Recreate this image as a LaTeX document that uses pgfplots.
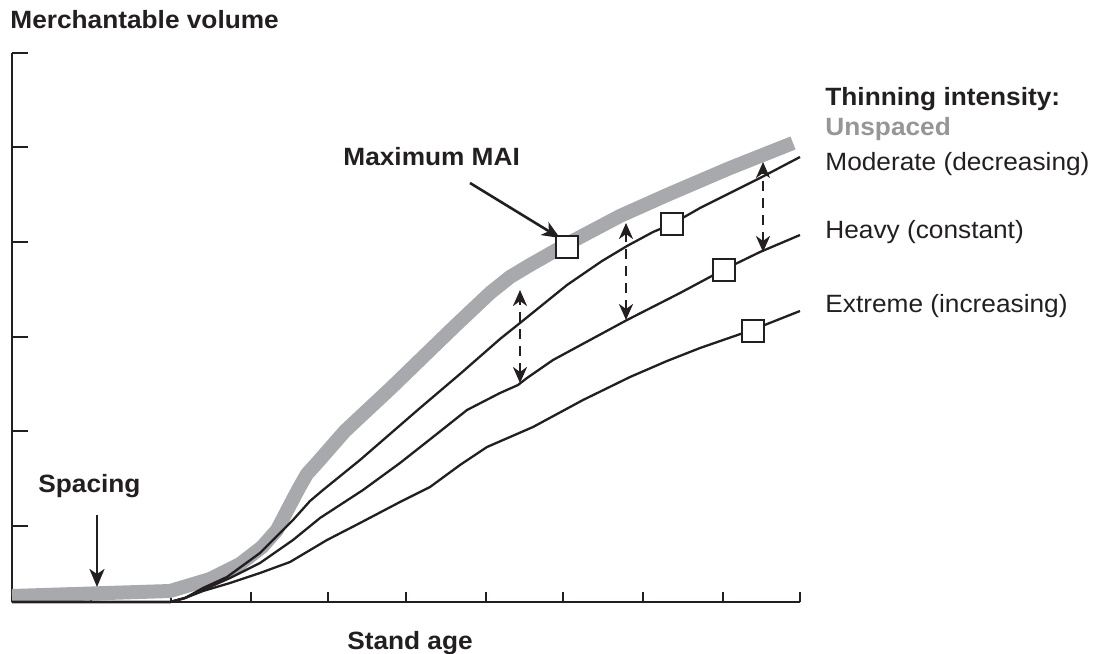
\documentclass[border=0pt]{standalone}
\usepackage{fontspec}
\setmainfont{Liberation Sans}[FakeStretch=1.05]
\usepackage{pgfplots}
\pgfplotsset{compat=1.18}
\usetikzlibrary{arrows.meta}
\definecolor{band}{RGB}{167,169,172}
\definecolor{ink}{RGB}{35,31,32}
\definecolor{graytext}{RGB}{150,150,152}
\newcommand\lab{\fontsize{12.5pt}{15pt}\selectfont}
\begin{document}
\begin{tikzpicture}
\path[use as bounding box] (0,0) rectangle (548.5pt,-326.5pt);
\begin{axis}[at={(6pt,-301pt)}, anchor=south west, scale only axis,
  width=394pt, height=274.5pt,
  xmin=0, xmax=788, ymin=0, ymax=549,
  axis lines=left, axis line style={-, line width=1.4pt, ink},
  clip=false,
  xtick={79,159,239,316,394,474,551,631,711,788}, xticklabels={},
  ytick=\empty, extra y ticks={76,171,265,360,455,549}, extra y tick labels={},
  tick align=inside, major tick length=5pt,
  extra tick style={major tick length=8pt},
  tick style={line width=1pt, ink},
]
% Unspaced
\addplot[band, line width=7pt, line join=round] coordinates {
(0,6)(158,11)(198,23)(228,38)(250,55)(265,72)(278,97)(287,114)(295,128)(305,139)(333,171)(379,214)(443,276)(478,309)(498,325)(518,337)(555,358)(608,386)(655,407)(718,434)(781,459)};
% Moderate
\addplot[ink, line width=1.15pt, line join=round] coordinates {
(0,0)(158,0)(173,4)(191,14)(215,25)(248,49)(281,82)(298,101)(311,112)(348,142)(408,194)(448,228)(488,263)(508,279)(555,317)(590,341)(615,356)(641,370)(660,378)(688,394)(748,424)(788,445)};
% Heavy
\addplot[ink, line width=1.15pt, line join=round] coordinates {
(0,0)(158,0)(173,4)(191,12)(218,24)(248,39)(281,62)(308,84)(351,112)(388,139)(421,165)(455,192)(488,209)(506,217)(515,224)(541,242)(578,262)(615,282)(668,309)(711,332)(748,350)(788,367)};
% Extreme
\addplot[ink, line width=1.15pt, line join=round] coordinates {
(0,0)(158,0)(173,4)(191,11)(218,19)(248,29)(278,40)(315,62)(348,79)(388,100)(418,115)(448,137)(475,155)(521,175)(571,202)(618,225)(655,241)(688,254)(740,272)(788,291)};
% dashed double arrows
\addplot[ink, line width=1.3pt, dash pattern=on 5pt off 3.5pt, {Stealth[length=8pt,width=7pt,inset=2.5pt]}-{Stealth[length=8pt,width=7pt,inset=2.5pt]}] coordinates {(508,219)(508,312)};
\addplot[ink, line width=1.3pt, dash pattern=on 5pt off 3.5pt, {Stealth[length=8pt,width=7pt,inset=2.5pt]}-{Stealth[length=8pt,width=7pt,inset=2.5pt]}] coordinates {(614,282)(614,379)};
\addplot[ink, line width=1.3pt, dash pattern=on 5pt off 3.5pt, {Stealth[length=8pt,width=7pt,inset=2.5pt]}-{Stealth[length=8pt,width=7pt,inset=2.5pt]}] coordinates {(751,350)(751,440)};
% MAI markers
\addplot[only marks, mark=square*, mark size=5.5pt, mark options={fill=white, draw=ink, line width=1.2pt}] coordinates {(555,355)(660,378)(712,332)(741,271)};
% annotation arrows
\addplot[ink, line width=1.3pt, -{Stealth[length=9pt,width=7.5pt,inset=2.5pt]}] coordinates {(85,87)(85,15)};
\addplot[ink, line width=1.3pt, -{Stealth[length=9pt,width=7.5pt,inset=2.5pt]}] coordinates {(458,419)(548,364)};
% labels
\node[anchor=base west, text=ink, inner sep=0pt] at (axis cs:-2,574) {\lab\bfseries Merchantable volume};
\node[anchor=base west, text=ink, inner sep=0pt] at (axis cs:813,497) {\lab\bfseries Thinning intensity:};
\node[anchor=base west, text=graytext, inner sep=0pt] at (axis cs:813,467) {\lab\bfseries Unspaced};
\node[anchor=base west, text=ink, inner sep=0pt] at (axis cs:813,432) {\lab Moderate (decreasing)};
\node[anchor=base west, text=ink, inner sep=0pt] at (axis cs:813,364) {\lab Heavy (constant)};
\node[anchor=base west, text=ink, inner sep=0pt] at (axis cs:813,290) {\lab Extreme (increasing)};
\node[anchor=base west, text=ink, inner sep=0pt] at (axis cs:331,437) {\lab\bfseries Maximum MAI};
\node[anchor=base west, text=ink, inner sep=0pt] at (axis cs:26,110) {\lab\bfseries Spacing};
\node[anchor=base, text=ink, inner sep=0pt] at (axis cs:398,-47) {\lab\bfseries Stand age};
\end{axis}
\end{tikzpicture}
\end{document}
